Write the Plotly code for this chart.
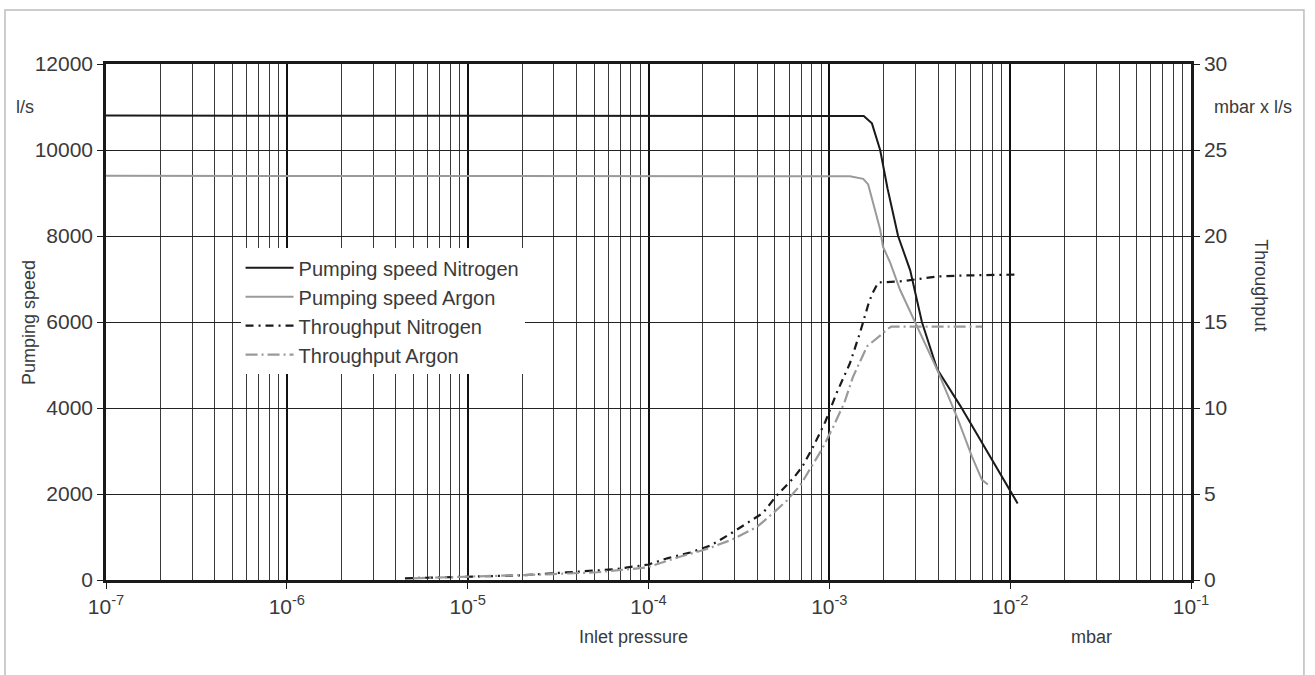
import plotly.graph_objects as go

# ---------------- data ----------------
p_speed_n2 = [1e-7, 1e-6, 1e-5, 1e-4, 1e-3, 1.45e-3, 1.55e-3, 1.72e-3, 1.86e-3, 1.91e-3, 2.1e-3,
              2.4e-3, 2.8e-3, 3.25e-3, 3.95e-3, 5.3e-3, 1.1e-2]
speed_n2 = [10800, 10800, 10800, 10800, 10800, 10800, 10790, 10620, 10170, 10000, 9100,
            8000, 7200, 6000, 4900, 4050, 1780]

p_speed_ar = [1e-7, 1e-6, 1e-5, 1e-4, 1e-3, 1.3e-3, 1.54e-3, 1.64e-3, 1.79e-3, 1.91e-3, 1.98e-3,
              2.17e-3, 2.46e-3, 2.98e-3, 3.94e-3, 5.15e-3, 6.15e-3, 6.98e-3, 7.53e-3]
speed_ar = [9400, 9400, 9400, 9400, 9400, 9390, 9330, 9200, 8600, 8150, 7750,
            7380, 6750, 6000, 4900, 3730, 2870, 2330, 2220]

p_thr_n2 = [4.5e-6, 1e-5, 1.95e-5, 3.5e-5, 6.4e-5, 1e-4, 1.27e-4, 1.7e-4, 2.2e-4, 2.8e-4,
            3.6e-4, 4.3e-4, 5.1e-4, 6.3e-4, 7.1e-4, 8.1e-4, 9.5e-4, 1.1e-3, 1.3e-3, 1.48e-3,
            1.64e-3, 1.72e-3, 1.86e-3, 2.46e-3, 4e-3, 5.3e-3, 1.1e-2]
thr_n2 = [0.1, 0.2, 0.27, 0.44, 0.62, 0.9, 1.26, 1.6, 2.0, 2.65,
          3.4, 3.9, 4.9, 5.9, 6.6, 7.7, 9.2, 10.9, 12.6, 14.4,
          16.0, 16.6, 17.3, 17.36, 17.65, 17.7, 17.76]

p_thr_ar = [5e-6, 1.17e-5, 2.75e-5, 5.2e-5, 9.8e-5, 1.49e-4, 2.1e-4, 2.9e-4, 4e-4, 4.9e-4,
            5.8e-4, 6.9e-4, 8e-4, 9.1e-4, 1.05e-3, 1.21e-3, 1.35e-3, 1.52e-3, 1.62e-3, 1.95e-3,
            2.08e-3, 2.2e-3, 7e-3]
thr_ar = [0.1, 0.2, 0.33, 0.45, 0.73, 1.35, 1.8, 2.35, 3.1, 3.9,
          4.6, 5.5, 6.6, 7.6, 8.9, 10.3, 11.8, 13.0, 13.6, 14.28,
          14.57, 14.73, 14.73]

series_names = ["Pumping speed Nitrogen", "Pumping speed Argon", "Throughput Nitrogen", "Throughput Argon"]
x_decades = [1e-7, 1e-6, 1e-5, 1e-4, 1e-3, 1e-2, 1e-1]
x_tick_text = ["10<sup>-7</sup>", "10<sup>-6</sup>", "10<sup>-5</sup>", "10<sup>-4</sup>",
               "10<sup>-3</sup>", "10<sup>-2</sup>", "10<sup>-1</sup>"]
x_minor = [m * d for d in x_decades[:-1] for m in range(2, 10)]
y_left_ticks = [0, 2000, 4000, 6000, 8000, 10000, 12000]
y_left_text = ["0", "2000", "4000", "6000", "8000", "10000", "12000"]
y_right_ticks = [0, 5, 10, 15, 20, 25, 30]

FONT = "Liberation Sans, Arial, sans-serif"
TXT = "#3a3a3a"
BLACK = "#1a1a1a"
GRAY = "#9a9a9a"

fig = go.Figure()
fig.add_trace(go.Scatter(x=p_speed_n2, y=speed_n2, mode="lines", name=series_names[0],
                         line=dict(color=BLACK, width=2)))
fig.add_trace(go.Scatter(x=p_speed_ar, y=speed_ar, mode="lines", name=series_names[1],
                         line=dict(color=GRAY, width=2)))
fig.add_trace(go.Scatter(x=p_thr_n2, y=thr_n2, mode="lines", name=series_names[2], yaxis="y2",
                         line=dict(color=BLACK, width=2.2, dash="8px,5px,2px,5px")))
fig.add_trace(go.Scatter(x=p_thr_ar, y=thr_ar, mode="lines", name=series_names[3], yaxis="y2",
                         line=dict(color=GRAY, width=2.2, dash="12px,4px,2px,4px")))

fig.update_layout(
    width=1315, height=675,
    margin=dict(l=106, r=124, t=64, b=95, autoexpand=False),
    paper_bgcolor="white", plot_bgcolor="white",
    font=dict(family=FONT, size=18, color=TXT),
    showlegend=True,
    legend=dict(x=0.124, y=0.643, xanchor="left", yanchor="top", bgcolor="white",
                borderwidth=0, font=dict(family=FONT, size=20, color=TXT),
                tracegroupgap=0, itemwidth=48),
    xaxis=dict(type="log", range=[-7, -1], tickmode="array", tickvals=x_decades,
               ticktext=x_tick_text, ticks="outside", ticklen=6, tickcolor=BLACK,
               showgrid=True, gridcolor="#111", gridwidth=1.5,
               showline=True, linecolor=BLACK, linewidth=2.5, mirror=True,
               tickfont=dict(size=21, color=TXT),
               minor=dict(tickmode="array", tickvals=x_minor, showgrid=True,
                          gridcolor="#3a3a3a", gridwidth=1, ticks="")),
    yaxis=dict(range=[0, 12000], tickmode="array", tickvals=y_left_ticks, ticktext=y_left_text,
               ticks="outside", ticklen=6, tickcolor=BLACK, showgrid=True,
               gridcolor="#222", gridwidth=1.2, showline=True, linecolor=BLACK,
               linewidth=2.5, zeroline=False, tickfont=dict(size=21, color=TXT)),
    yaxis2=dict(range=[0, 30], tickmode="array", tickvals=y_right_ticks,
                overlaying="y", side="right", ticks="outside", ticklen=6, tickcolor=BLACK,
                showgrid=False, showline=True, linecolor=BLACK, linewidth=2.5,
                zeroline=False, tickfont=dict(size=21, color=TXT)),
)

ann = dict(xref="paper", yref="paper", showarrow=False, xanchor="center", yanchor="middle",
           font=dict(family=FONT, size=18, color=TXT))
fig.add_annotation(text="l/s", x=-0.075, y=0.917, **ann)
fig.add_annotation(text="mbar x l/s", x=1.057, y=0.917, **ann)
fig.add_annotation(text="Pumping speed", x=-0.071, y=0.50, textangle=-90, **ann)
fig.add_annotation(text="Throughput", x=1.065, y=0.572, textangle=90, **ann)
fig.add_annotation(text="Inlet pressure", x=0.486, y=-0.110, **ann)
fig.add_annotation(text="mbar", x=0.908, y=-0.110, **ann)

# outer frame
fig.add_shape(type="rect", xref="paper", yref="paper", x0=-0.0931, x1=1.1041, y0=-0.25, y1=1.1047,
              line=dict(color="#bdbdbd", width=1.5), fillcolor="rgba(0,0,0,0)", layer="below")

fig.write_html("out.html", config={"displayModeBar": False},
               post_script="document.body.style.margin='0';document.body.style.overflow='hidden';")
